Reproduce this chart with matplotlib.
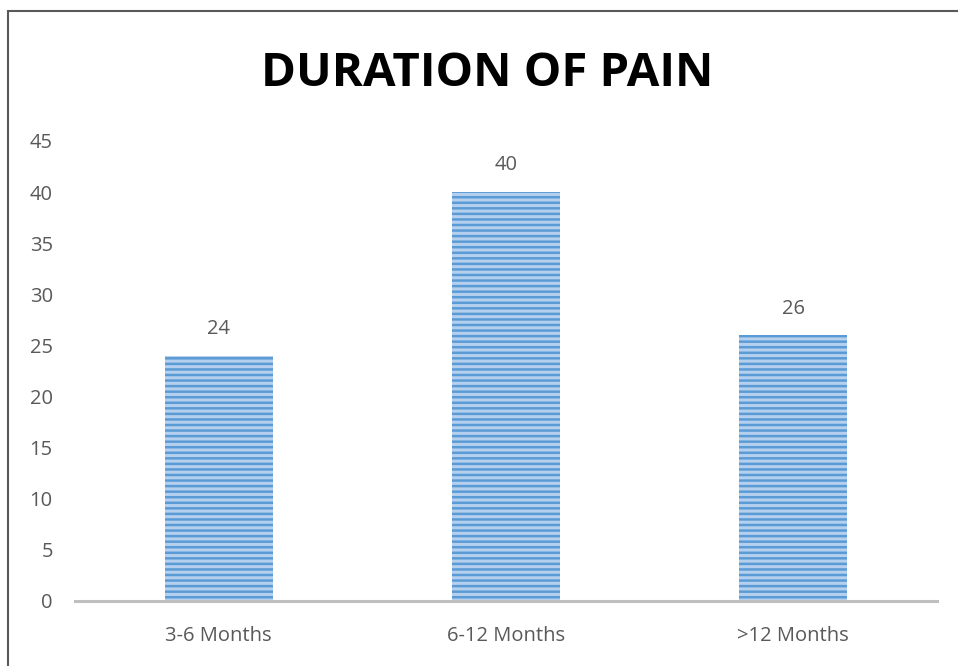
"""Bar chart: duration of pain (patient counts per duration bucket)."""

import matplotlib
matplotlib.use("Agg")
from matplotlib import pyplot as plt
from matplotlib.patches import Rectangle

categories = ["3-6 Months", "6-12 Months", ">12 Months"]
counts = [24, 40, 26]
y_ticks = [0, 5, 10, 15, 20, 25, 30, 35, 40, 45]

BAR_FACE = "#B4D0EE"
BAR_STRIPE = "#5B9BD5"
TEXT_GREY = "#595959"

plt.rcParams.update({"font.family": ["Open Sans", "DejaVu Sans"], "hatch.linewidth": 1.8})

fig = plt.figure(figsize=(9.58, 6.66), dpi=100)
ax = fig.add_axes([75 / 958, 1 - 601 / 666, (937 - 75) / 958, (601 - 141) / 666])

x = list(range(len(categories)))
bars = ax.bar(x, counts, width=0.375, color=BAR_FACE, edgecolor=BAR_STRIPE,
              hatch="---", linewidth=0, zorder=2)

for xi, val in zip(x, counts):
    ax.annotate(str(val), (xi, val), xytext=(0, 12), textcoords="offset points",
                ha="center", va="bottom", fontsize=14.5, color=TEXT_GREY)

ax.set_xlim(-0.5, len(categories) - 0.5)
ax.set_ylim(0, 45)
ax.set_yticks(y_ticks)
ax.set_xticks(x)
ax.set_xticklabels(categories)
ax.tick_params(axis="y", length=0, pad=16, labelsize=14.5, labelcolor=TEXT_GREY)
ax.tick_params(axis="x", length=0, pad=18, labelsize=14.5, labelcolor=TEXT_GREY)

for side in ("top", "right", "left"):
    ax.spines[side].set_visible(False)
ax.spines["bottom"].set_color("#BFBFBF")
ax.spines["bottom"].set_linewidth(2.2)
ax.spines["bottom"].set_zorder(3)

fig.text(487 / 958, 1 - 73 / 666, "DURATION OF PAIN", ha="center", va="center",
         fontsize=34, fontweight="bold", color="black")

# chart border (cropped on the right and bottom in the reference)
fig.patches.append(Rectangle((8 / 958, -0.1), 1.2, 1.1 - 11 / 666,
                             transform=fig.transFigure, fill=False,
                             edgecolor="#595959", linewidth=1.5))

fig.savefig("out.png", dpi=100)
